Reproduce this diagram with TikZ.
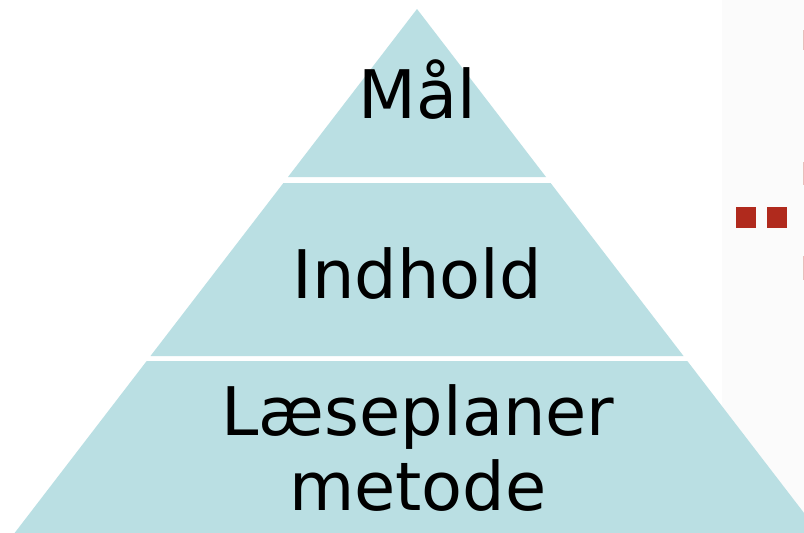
\documentclass[tikz,border=0pt]{standalone}
\usepackage{fontspec}
\setmainfont{DejaVu Sans}
\definecolor{tier}{HTML}{BADFE3}
\definecolor{mark}{HTML}{B02A1D}
\definecolor{strip}{HTML}{FBFBFB}
\begin{document}
\begin{tikzpicture}[x=1pt,y=-1pt,
  tierfill/.style={fill=tier,draw=none},
  label/.style={font=\fontsize{67}{75}\selectfont,text=black,inner sep=0pt,anchor=base,align=center},
  redsq/.style={fill=mark,draw=none},
  sliver/.style={fill=mark!30,draw=none}]
\useasboundingbox (0,0) rectangle (804,533);
\fill[white] (0,0) rectangle (804,533);
\begin{scope}
\clip (0,0) rectangle (804,533);
\fill[strip] (722,0) rectangle (804,533);
% pyramid tiers
\path[tierfill] (417,9) -- (546,177) -- (288,177) -- cycle;
\path[tierfill] (283.4,183) -- (550.6,183) -- (683.5,356) -- (150.5,356) -- cycle;
\path[tierfill] (146.7,361) -- (687.3,361) -- (819.4,533) -- (14.6,533) -- cycle;
% red marks at right
\path[redsq] (736,207) rectangle (756,228);
\path[redsq] (767,207) rectangle (787,228);
\path[sliver] (803,30) rectangle (804,50);
\path[sliver] (803,162) rectangle (804,185);
\path[sliver] (803,256) rectangle (804,280);
\end{scope}
% labels
\node[label] (mal) at (417,118) {Mål};
\node[label] (indhold) at (417,298) {Indhold};
\node[label] (laes) at (418,435) {Læseplaner};
\node[label] (metode) at (418,510) {metode};
\end{tikzpicture}
\end{document}
